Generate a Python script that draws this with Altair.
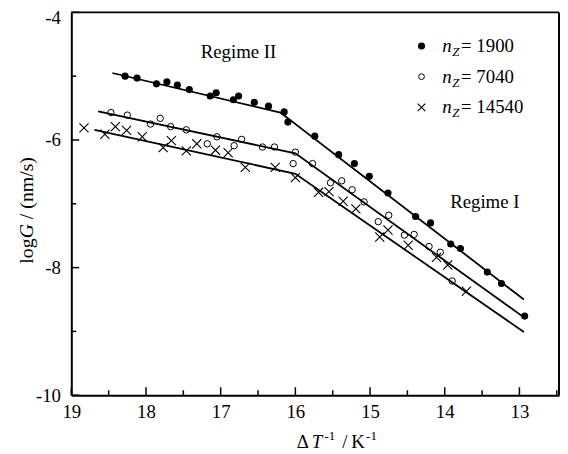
import altair as alt
import pandas as pd

# ---------------- data ----------------
filled_x = [18.28, 18.12, 17.86, 17.72, 17.58, 17.42, 17.14, 17.06, 16.83, 16.76,
            16.55, 16.36, 16.15, 16.10, 15.74, 15.42, 15.21, 15.01, 14.76, 14.39,
            14.19, 13.92, 13.79, 13.43, 13.24, 12.93]
filled_y = [-5.00, -5.03, -5.12, -5.09, -5.14, -5.21, -5.31, -5.26, -5.37, -5.31,
            -5.41, -5.47, -5.56, -5.72, -5.94, -6.23, -6.37, -6.57, -6.83, -7.20,
            -7.30, -7.63, -7.70, -8.07, -8.25, -8.76]

open_x = [18.47, 18.25, 17.94, 17.81, 17.67, 17.46, 17.18, 17.05, 16.82, 16.72,
          16.44, 16.28, 16.00, 16.03, 15.77, 15.53, 15.38, 15.24, 15.08, 14.89,
          14.75, 14.54, 14.41, 14.21, 14.06, 13.90]
open_y = [-5.57, -5.61, -5.75, -5.66, -5.79, -5.84, -6.06, -5.95, -6.09, -5.99,
          -6.11, -6.11, -6.19, -6.37, -6.37, -6.67, -6.64, -6.78, -6.97, -7.28,
          -7.18, -7.49, -7.48, -7.67, -7.76, -8.21]

cross_x = [18.83, 18.55, 18.41, 18.26, 18.05, 17.77, 17.66, 17.46, 17.32, 17.07,
           16.90, 16.67, 16.27, 16.00, 15.69, 15.55, 15.36, 15.19, 14.87, 14.76,
           14.49, 14.11, 13.96, 13.71]
cross_y = [-5.81, -5.91, -5.79, -5.85, -5.95, -6.12, -6.01, -6.17, -6.06, -6.16,
           -6.20, -6.43, -6.43, -6.59, -6.82, -6.81, -6.96, -7.08, -7.52, -7.41,
           -7.65, -7.84, -7.96, -8.37]

# fitted two-regime lines (start, break, end)
fit_filled_x = [18.45, 16.20, 12.94]
fit_filled_y = [-4.95, -5.57, -8.50]
fit_open_x = [18.64, 16.00, 12.94]
fit_open_y = [-5.55, -6.21, -8.78]
fit_cross_x = [18.69, 16.00, 12.94]
fit_cross_y = [-5.84, -6.53, -9.01]

x_domain = [12.47, 19]
y_domain = [-10, -4]
x_major = [19, 18, 17, 16, 15, 14, 13]
x_minor = [18.5, 17.5, 16.5, 15.5, 14.5, 13.5, 12.5]
y_major = [-10, -8, -6, -4]
y_minor = [-9, -7, -5]
series_labels = ["1900", "7040", "14540"]

# ---------------- styling ----------------
W, H = 493, 387
FONT = "Liberation Serif"
FS = 19
CROSS = "M-1,-1L1,1M-1,1L1,-1"

xs = alt.Scale(domain=x_domain, reverse=True, nice=False, zero=False)
ys = alt.Scale(domain=y_domain, nice=False, zero=False)
x_axis = alt.Axis(values=x_major, ticks=False, grid=False, labelFont=FONT,
                  labelFontSize=FS, labelPadding=8, labelColor="black",
                  domainColor="black", domainWidth=2, title=None,
                  labelFlush=False, labelExpr="'' + datum.value")
y_axis = alt.Axis(values=y_major, ticks=False, grid=False, labelFont=FONT,
                  labelFontSize=FS, labelPadding=11, labelColor="black",
                  domainColor="black", domainWidth=2, title=None,
                  labelFlush=False, labelExpr="'' + datum.value",
                  labelOffset={"condition": {"test": "datum.value == -4", "value": 5},
                               "value": 0})


def X(f):
    return alt.X(f, type="quantitative", scale=xs, axis=x_axis)


def Y(f):
    return alt.Y(f, type="quantitative", scale=ys, axis=y_axis)


def pts(xv, yv):
    return pd.DataFrame({"x": xv, "y": yv})


one = alt.Data(values=[{}])


def txt(s, x, y, size=FS, italic=False, align="left", baseline="alphabetic", angle=0):
    kw = dict(text=s, font=FONT, fontSize=size, align=align, baseline=baseline,
              color="black")
    if italic:
        kw["fontStyle"] = "italic"
    if angle:
        kw["angle"] = angle
    return alt.Chart(one).mark_text(**kw).encode(x=alt.value(x), y=alt.value(y))


filled = alt.Chart(pts(filled_x, filled_y)).mark_point(
    shape="circle", filled=True, size=52, color="black", opacity=1
).encode(x=X("x"), y=Y("y"))
opened = alt.Chart(pts(open_x, open_y)).mark_point(
    shape="circle", filled=False, size=42, color="black", strokeWidth=1, opacity=1
).encode(x=X("x"), y=Y("y"))
crossed = alt.Chart(pts(cross_x, cross_y)).mark_point(
    shape=CROSS, filled=False, size=85, color="black", strokeWidth=1.1, opacity=1
).encode(x=X("x"), y=Y("y"))

fit_rows = []
for name, fx, fy in [("a", fit_filled_x, fit_filled_y),
                     ("b", fit_open_x, fit_open_y),
                     ("c", fit_cross_x, fit_cross_y)]:
    for i, (a, b) in enumerate(zip(fx, fy)):
        fit_rows.append({"s": name, "o": i, "x": a, "y": b})
fits = alt.Chart(pd.DataFrame(fit_rows)).mark_line(
    color="black", strokeWidth=1.8
).encode(x=X("x"), y=Y("y"), detail="s:N", order="o:Q")

# frame (top and right) drawn on the same scales
frame_top = alt.Chart(pd.DataFrame({"x": [x_domain[1]], "x2": [x_domain[0]],
                                    "y": [y_domain[1]]})).mark_rule(
    color="black", strokeWidth=2).encode(x=X("x"), x2="x2", y=Y("y"))
frame_right = alt.Chart(pd.DataFrame({"x": [x_domain[0]], "y": [y_domain[0]],
                                      "y2": [y_domain[1]]})).mark_rule(
    color="black", strokeWidth=2).encode(x=X("x"), y=Y("y"), y2="y2")

xt_major = alt.Chart(pd.DataFrame({"v": x_major})).mark_rule(
    color="black", strokeWidth=1.5).encode(x=X("v"), y=alt.value(H), y2=alt.value(H - 8))
xt_minor = alt.Chart(pd.DataFrame({"v": x_minor})).mark_rule(
    color="black", strokeWidth=1.5).encode(x=X("v"), y=alt.value(H), y2=alt.value(H - 5))
yt_major = alt.Chart(pd.DataFrame({"v": y_major})).mark_rule(
    color="black", strokeWidth=1.5).encode(y=Y("v"), x=alt.value(0), x2=alt.value(8))
yt_minor = alt.Chart(pd.DataFrame({"v": y_minor})).mark_rule(
    color="black", strokeWidth=1.5).encode(y=Y("v"), x=alt.value(0), x2=alt.value(5))

# legend (drawn by hand, top right inside the frame)
LX, LY = 354, [34, 65, 96]
leg = [
    alt.Chart(one).mark_point(shape="circle", filled=True, size=52, color="black",
                              opacity=1).encode(x=alt.value(LX), y=alt.value(LY[0])),
    alt.Chart(one).mark_point(shape="circle", filled=False, size=34, color="black",
                              strokeWidth=1, opacity=1).encode(x=alt.value(LX), y=alt.value(LY[1])),
    alt.Chart(one).mark_point(shape=CROSS, filled=False, size=60, color="black",
                              strokeWidth=1.1, opacity=1).encode(x=alt.value(LX), y=alt.value(LY[2])),
]
for yy, lab in zip(LY, series_labels):
    leg.append(txt("n", 375, yy + 6, italic=True))
    leg.append(txt("Z", 385, yy + 10, size=13, italic=True))
    leg.append(txt("= " + lab, 394, yy + 6))

annotations = [
    txt("Regime II", 169, 46, align="center"),
    txt("Regime I", 418, 198, align="center"),
    # x title: Δ T^-1 / K^-1
    txt("Δ", 228, 440),
    txt("T", 243, 440, italic=True),
    txt("-1", 256, 432, size=13),
    txt("/", 274, 440),
    txt("K", 283, 440),
    txt("-1", 298, 432, size=13),
    # y title: logG / (nm/s)
    txt("log", -45, 254, size=20, baseline="middle", angle=270),
    txt("G", -45, 228.4, size=20, italic=True, baseline="middle", angle=270),
    txt("/ (nm/s)", -45, 209, size=20, baseline="middle", angle=270),
]

chart = alt.layer(
    fits, filled, opened, crossed, frame_top, frame_right,
    xt_major, xt_minor, yt_major, yt_minor, *leg, *annotations
).properties(
    width=W, height=H, autosize=alt.AutoSizeParams(type="none"),
    padding={"left": 64, "top": 2, "right": 1, "bottom": 57},
).configure_view(strokeWidth=0)

chart.save("out.html", embed_options={"renderer": "svg", "actions": False})
